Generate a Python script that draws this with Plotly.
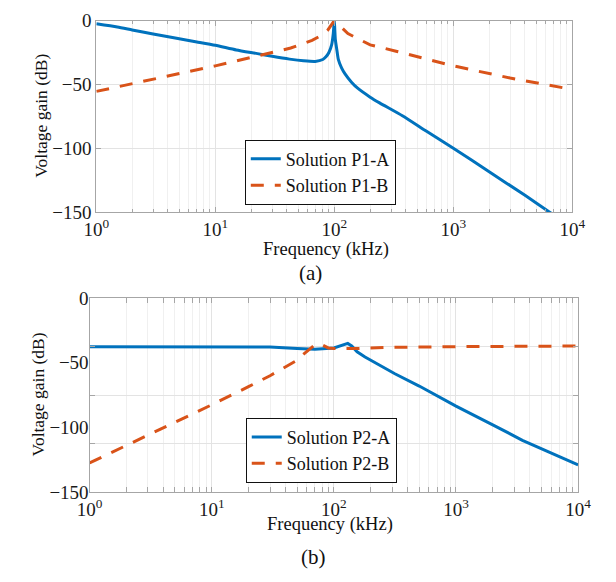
import plotly.graph_objects as go

# ---- Panel (a): solutions P1 ----
f_p1a = [1, 1.5, 2, 3, 4.6, 7, 10, 15, 22.6, 30, 42, 55, 69, 80, 85, 90, 95,
         98, 100, 101, 102, 105, 108, 115, 123, 140, 157, 200, 240, 373, 600,
         1000, 2000, 4000, 6400, 10000]
g_p1a = [-2.5, -5, -7.3, -10.5, -13.7, -16.7, -19.3, -23, -25.9, -28, -30.2,
         -31.5, -32, -30.5, -28.4, -25, -18.8, -10, 0, -8, -15, -23, -30.4,
         -37, -41.8, -48.5, -53, -60, -64.5, -74.6, -87, -100, -118.5, -137,
         -150, -162]

f_p1b = [1, 2, 5, 10, 26, 43, 65, 80, 88, 100, 130, 200, 330, 1000, 3000, 10000]
g_p1b = [-55.5, -49.7, -41.5, -35.5, -26.4, -21.5, -15.5, -11, -7.5, 0, -10.2,
         -19, -24, -35.5, -45, -54]

# ---- Panel (b): solutions P2 ----
f_p2a = [1, 5, 10, 20, 30, 50, 70, 100, 120, 130, 140, 155, 180, 230, 316, 500,
         1000, 2000, 3500, 10000]
g_p2a = [-37.5, -37.5, -37.5, -37.6, -37.8, -39, -39.5, -38.5, -36, -35, -37,
         -41.5, -45.5, -51, -58.5, -68, -83.5, -98, -110, -129]

f_p2b = [1, 2, 5, 10, 20, 30, 48, 60, 70, 75, 80, 90, 100, 150, 300, 1000, 10000]
g_p2b = [-127.5, -114, -96, -82.5, -68.5, -60, -49, -41, -36, -35, -36, -38.5,
         -39, -39, -38, -37.5, -37]

legend_a = ["Solution P1-A", "Solution P1-B"]
legend_b = ["Solution P2-A", "Solution P2-B"]

x_ticks = [1, 10, 100, 1000, 10000]
x_ticktext = ["10<sup>0</sup>", "10<sup>1</sup>", "10<sup>2</sup>",
              "10<sup>3</sup>", "10<sup>4</sup>"]
x_minor = [m * 10 ** d for d in range(4) for m in range(2, 10)]
y_ticks = [0, -50, -100, -150]
y_grid_b = [0, -37.5, -75, -112.5, -150]

BLUE = "#0072BD"
ORANGE = "#D95319"
FONT = "Liberation Serif"
W, H = 616, 582

fig = go.Figure()

fig.add_trace(go.Scatter(x=f_p1a, y=g_p1a, mode="lines", name=legend_a[0],
                         line=dict(color=BLUE, width=3, shape="spline",
                                   smoothing=0.6),
                         xaxis="x", yaxis="y", legend="legend"))
fig.add_trace(go.Scatter(x=f_p1b, y=g_p1b, mode="lines", name=legend_a[1],
                         line=dict(color=ORANGE, width=3, dash="13px,11px"),
                         xaxis="x", yaxis="y", legend="legend"))
fig.add_trace(go.Scatter(x=f_p2a, y=g_p2a, mode="lines", name=legend_b[0],
                         line=dict(color=BLUE, width=3), xaxis="x2", yaxis="y2",
                         legend="legend2"))
fig.add_trace(go.Scatter(x=f_p2b, y=g_p2b, mode="lines", name=legend_b[1],
                         line=dict(color=ORANGE, width=3, dash="13px,11px"),
                         xaxis="x2", yaxis="y2", legend="legend2"))
# empty carrier so the labelled overlay axis of panel (b) is drawn
fig.add_trace(go.Scatter(x=[], y=[], mode="lines", xaxis="x2", yaxis="y3",
                         showlegend=False, hoverinfo="skip"))

frame = "#a6a6a6"
major_grid = "#e3e3e3"
minor_grid = "#f0f0f0"
tickfont = dict(family=FONT, size=19, color="#1a1a1a")


def xaxis_cfg(domain, anchor):
    return dict(
        type="log", range=[0, 4], domain=domain, anchor=anchor,
        tickvals=x_ticks, ticktext=x_ticktext, tickfont=tickfont,
        ticks="inside", ticklen=5, tickcolor=frame, mirror="allticks",
        showline=True, linecolor=frame, linewidth=1,
        showgrid=True, gridcolor=major_grid, gridwidth=1, zeroline=False,
        minor=dict(tickvals=x_minor, ticks="inside", ticklen=3,
                   tickcolor=frame, showgrid=True, gridcolor=minor_grid),
    )


# panel pixel boxes converted to paper fractions
xa_dom = [87 / W, 584 / W]
ya_dom = [1 - 209.5 / H, 1 - 11 / H]
xb_dom = [80 / W, 590 / W]
yb_dom = [1 - 500 / H, 1 - 299 / H]

fig.update_layout(
    width=W, height=H,
    margin=dict(l=0, r=0, t=0, b=0),
    paper_bgcolor="white", plot_bgcolor="white",
    font=dict(family=FONT, size=18, color="#111111"),
    xaxis=xaxis_cfg(xa_dom, "y"),
    yaxis=dict(range=[-150, 0], domain=ya_dom, anchor="x",
               tickvals=y_ticks, tickfont=tickfont,
               ticks="inside", ticklen=5, tickcolor=frame, mirror="allticks",
               showline=True, linecolor=frame, linewidth=1,
               showgrid=True, gridcolor=major_grid, zeroline=False),
    xaxis2=xaxis_cfg(xb_dom, "y2"),
    yaxis2=dict(range=[-150, 0], domain=yb_dom, anchor="x2",
                tickvals=y_grid_b, showticklabels=False,
                ticks="inside", ticklen=5, tickcolor=frame, mirror="allticks",
                showline=True, linecolor=frame, linewidth=1,
                showgrid=True, gridcolor=major_grid, zeroline=False),
    yaxis3=dict(range=[-150, 0], overlaying="y2", anchor="x2", side="left",
                tickvals=y_ticks, tickfont=tickfont, ticks="",
                showticklabels=True,
                showline=False, showgrid=False, zeroline=False),
    legend=dict(x=242 / W, y=1 - 134.5 / H, xanchor="left", yanchor="top",
                bgcolor="white", bordercolor="#111111", borderwidth=1,
                font=dict(family=FONT, size=18, color="#111111"),
                tracegroupgap=0),
    legend2=dict(x=243 / W, y=1 - 423 / H, xanchor="left", yanchor="top",
                 bgcolor="white", bordercolor="#111111", borderwidth=1,
                 font=dict(family=FONT, size=18, color="#111111"),
                 tracegroupgap=0),
    showlegend=True,
)

# axis titles and panel captions
texts = [
    ("Voltage gain (dB)", 29, 110, 90, 17.5),
    ("Voltage gain (dB)", 26, 399, 90, 17.5),
    ("Frequency (kHz)", 327, 248, 0, 18.5),
    ("Frequency (kHz)", 331, 534, 0, 18.5),
    ("(a)", 311, 273, 0, 21),
    ("(b)", 314, 567, 0, 21),
]
for txt, px, py, ang, sz in texts:
    fig.add_annotation(text=txt, x=px / W, y=1 - py / H, xref="paper",
                       yref="paper", showarrow=False, textangle=-ang,
                       xanchor="center", yanchor="middle",
                       font=dict(family=FONT, size=sz, color="#111111"))

fig.write_html("out.html")
